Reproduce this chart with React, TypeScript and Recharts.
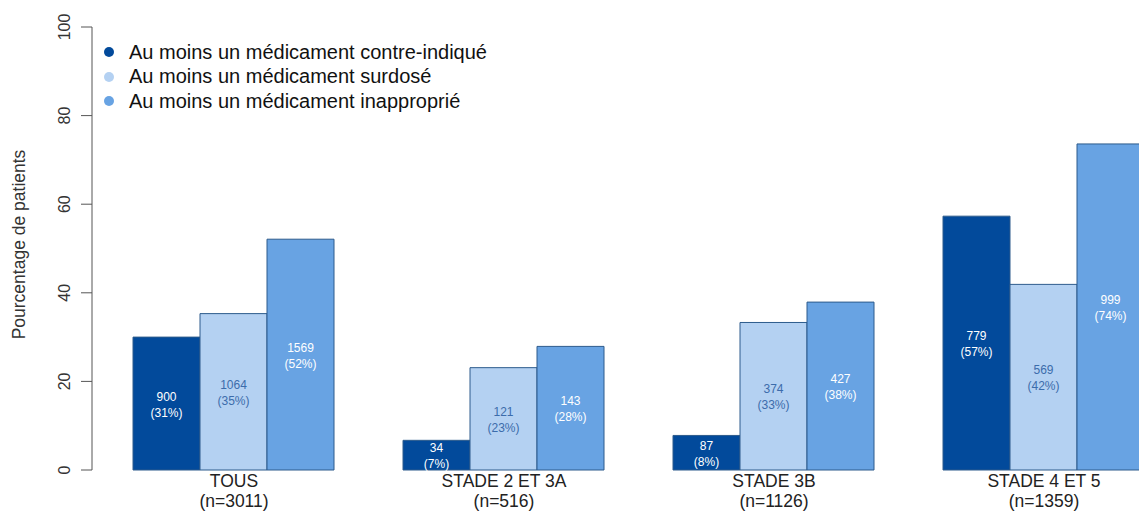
import { BarChart, Bar, XAxis, YAxis, LabelList } from "recharts";

const categories = ["TOUS", "STADE 2 ET 3A", "STADE 3B", "STADE 4 ET 5"];
const sampleSizes = ["(n=3011)", "(n=516)", "(n=1126)", "(n=1359)"];

// bar heights (% of patients)
const contreIndique = [30.0, 6.7, 7.8, 57.3];
const surdose = [35.3, 23.1, 33.3, 41.9];
const inapproprie = [52.1, 27.9, 37.9, 73.6];

// printed labels inside the bars
const countsCI = [900, 34, 87, 779];
const pctCI = [31, 7, 8, 57];
const countsSD = [1064, 121, 374, 569];
const pctSD = [35, 23, 33, 42];
const countsIA = [1569, 143, 427, 999];
const pctIA = [52, 28, 38, 74];

const yTicks = [0, 20, 40, 60, 80, 100];

const SERIES = [
  { key: "ci", name: "Au moins un médicament contre-indiqué", fill: "#024a9b", text: "#ffffff" },
  { key: "sd", name: "Au moins un médicament surdosé", fill: "#b4d1f2", text: "#3c6cab" },
  { key: "ia", name: "Au moins un médicament inapproprié", fill: "#68a3e3", text: "#ffffff" },
];

const FONT = "'Liberation Sans', Arial, sans-serif";

const data = categories.map((c, i) => ({
  name: c,
  n: sampleSizes[i],
  ci: contreIndique[i],
  sd: surdose[i],
  ia: inapproprie[i],
  ciLbl: `${countsCI[i]}|(${pctCI[i]}%)`,
  sdLbl: `${countsSD[i]}|(${pctSD[i]}%)`,
  iaLbl: `${countsIA[i]}|(${pctIA[i]}%)`,
}));

const makeBarLabel = (color: string) => (props: any) => {
  const { x, y, width, height, value } = props;
  const [a, b] = String(value).split("|");
  const cx = Number(x) + Number(width) / 2;
  const cy = Number(y) + Number(height) / 2;
  return (
    <text x={cx} y={cy} textAnchor="middle" fill={color} fontSize={12} fontFamily={FONT}>
      <tspan x={cx} dy={-3}>{a}</tspan>
      <tspan x={cx} dy={16}>{b}</tspan>
    </text>
  );
};

const YTick = (props: any) => {
  const { y, payload } = props;
  return (
    <text
      transform={`translate(64,${y}) rotate(-90)`}
      textAnchor="middle"
      dy="0.35em"
      fontSize={16}
      fontFamily={FONT}
      fill="#333"
    >
      {payload.value}
    </text>
  );
};

const XTick = (props: any) => {
  const { x, y, index } = props;
  return (
    <text x={x} y={y} textAnchor="middle" fontSize={17.5} fontFamily={FONT} fill="#222">
      <tspan x={x} dy={9}>{categories[index]}</tspan>
      <tspan x={x} dy={20}>{sampleSizes[index]}</tspan>
    </text>
  );
};

const YLabel = (props: any) => {
  const vb = props.viewBox || { y: 27, height: 443 };
  const cy = vb.y + vb.height / 2 - 4;
  return (
    <text
      transform={`translate(19,${cy}) rotate(-90)`}
      textAnchor="middle"
      dy="0.35em"
      fontSize={17.5}
      fontFamily={FONT}
      fill="#333"
    >
      Pourcentage de patients
    </text>
  );
};

export default function App() {
  return (
    <div
      style={{
        position: "absolute",
        left: 0,
        top: 0,
        width: 1139,
        height: 514,
        overflow: "hidden",
        background: "#fff",
      }}
    >
      <BarChart
        width={1190}
        height={514}
        data={data}
        margin={{ top: 27, right: 11, bottom: 0, left: 0 }}
        barCategoryGap={34}
        barGap={0}
      >
        <XAxis
          dataKey="name"
          axisLine={false}
          tickLine={false}
          height={44}
          padding={{ left: 7, right: 0 }}
          tick={<XTick />}
          interval={0}
        />
        <YAxis
          domain={[0, 100]}
          ticks={yTicks}
          width={92}
          tickSize={11}
          axisLine={{ stroke: "#555" }}
          tickLine={{ stroke: "#555" }}
          tick={<YTick />}
          label={<YLabel />}
        />
        {SERIES.map((s) => (
          <Bar
            key={s.key}
            dataKey={s.key}
            name={s.name}
            fill={s.fill}
            stroke="#2d5b8c"
            strokeWidth={1}
            isAnimationActive={false}
          >
            <LabelList dataKey={`${s.key}Lbl`} content={makeBarLabel(s.text)} />
          </Bar>
        ))}
      </BarChart>

      {/* Legend */}
      <div style={{ position: "absolute", left: 104, top: 40, fontFamily: FONT }}>
        {SERIES.map((s) => (
          <div
            key={s.key}
            style={{ display: "flex", alignItems: "center", height: 24.5, fontSize: 20, color: "#111" }}
          >
            <span
              style={{
                width: 10,
                height: 10,
                borderRadius: "50%",
                background: s.fill,
                marginRight: 15,
                display: "inline-block",
              }}
            />
            {s.name}
          </div>
        ))}
      </div>
    </div>
  );
}
